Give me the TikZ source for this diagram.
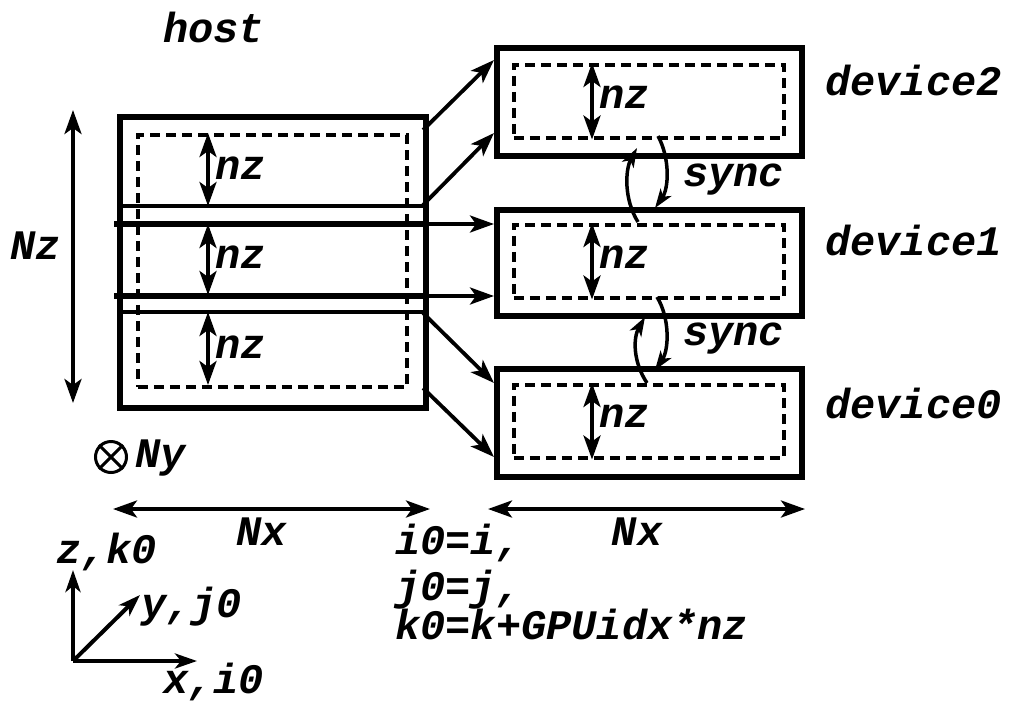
\documentclass[tikz,border=0pt]{standalone}
\usepackage{fontspec}
\setmonofont{Liberation Mono}
\usetikzlibrary{arrows.meta}
\begin{document}
\begin{tikzpicture}[x=1pt,y=-1pt,
  >={Stealth[length=24pt,width=17pt,inset=6pt]},
  lbl/.style={font=\fontsize{42}{46}\selectfont\ttfamily\bfseries\itshape, inner sep=0pt, anchor=base west},
  outerbox/.style={draw, line width=6pt, anchor=north west, inner sep=0pt},
  innerbox/.style={draw, line width=3.5pt, dash pattern=on 10pt off 6pt, anchor=north west, inner sep=0pt},
  conn/.style={line width=3.8pt, ->},
  dim/.style={line width=3.8pt, <->},
  syncarr/.style={line width=3.5pt, -{Stealth[length=19pt,width=13pt,inset=5pt]}},
  axarr/.style={line width=4pt, -{Stealth[length=22pt,width=15pt,inset=6pt]}},
]
\useasboundingbox (0,0) rectangle (1011,702);

% host
\node[outerbox, minimum width=306pt, minimum height=291pt] (host) at (117,114) {};
\draw[line width=3.5pt] (117,206) -- (423,206);
\draw[line width=3.5pt] (117,312) -- (423,312);
\node[innerbox, minimum width=269pt, minimum height=252pt] (hostin) at (136,133) {};
\node[lbl] (hostlbl) at (163,42) {host};

% devices
\node[outerbox, minimum width=305pt, minimum height=108pt] (dev2) at (494,45) {};
\node[innerbox, minimum width=270pt, minimum height=73pt] (dev2in) at (512,63) {};
\node[outerbox, minimum width=305pt, minimum height=106pt] (dev1) at (494,207) {};
\node[innerbox, minimum width=270pt, minimum height=73pt] (dev1in) at (512,223) {};
\node[outerbox, minimum width=305pt, minimum height=108pt] (dev0) at (494,366) {};
\node[innerbox, minimum width=270pt, minimum height=73pt] (dev0in) at (512,383) {};

\node[lbl] (d2lbl) at (825,95) {device2};
\node[lbl] (d1lbl) at (825,255) {device1};
\node[lbl] (d0lbl) at (825,418) {device0};

% connector end points
\coordinate (h1) at (423,130);
\coordinate (h2) at (423,205);
\coordinate (h3) at (114,224);
\coordinate (h4) at (114,296);
\coordinate (h5) at (423,313);
\coordinate (h6) at (423,388);
\coordinate (t1) at (494,60);
\coordinate (t2) at (494,133);
\coordinate (t3) at (494,224);
\coordinate (t4) at (494,296);
\coordinate (t5) at (494,383);
\coordinate (t6) at (494,457);

\draw[conn] (h1) -- (t1);
\draw[conn] (h2) -- (t2);
\draw[line width=5.5pt] (h3) -- (423,224);
\draw[line width=5.5pt] (h4) -- (423,296);
\draw[conn] (423,224) -- (t3);
\draw[conn] (423,296) -- (t4);
\draw[conn] (h5) -- (t5);
\draw[conn] (h6) -- (t6);

% nz in host
\coordinate (a1) at (208,133); \coordinate (b1) at (208,206);
\coordinate (a2) at (208,224); \coordinate (b2) at (208,295);
\coordinate (a3) at (208,312); \coordinate (b3) at (208,385);
\draw[dim] (a1) -- (b1);
\draw[dim] (a2) -- (b2);
\draw[dim] (a3) -- (b3);
\node[lbl] (nzh1) at (215,179) {nz};
\node[lbl] (nzh2) at (215,268) {nz};
\node[lbl] (nzh3) at (215,358) {nz};

% nz in devices
\draw[dim] (dev2in.north -| 592,0) -- (dev2in.south -| 592,0);
\draw[dim] (dev1in.north -| 592,0) -- (dev1in.south -| 592,0);
\draw[dim] (dev0in.north -| 592,0) -- (dev0in.south -| 592,0);
\node[lbl] (nzd2) at (599,108) {nz};
\node[lbl] (nzd1) at (599,268) {nz};
\node[lbl] (nzd0) at (599,427) {nz};

% sync
\coordinate (s1a) at (638,222); \coordinate (s1b) at (637,148);
\coordinate (s2a) at (658,136); \coordinate (s2b) at (655,208);
\coordinate (s3a) at (647,383); \coordinate (s3b) at (645,317);
\coordinate (s4a) at (657,297); \coordinate (s4b) at (655,370);
\draw[syncarr] (s1a) .. controls (624,200) and (625,170) .. (s1b);
\draw[syncarr] (s2a) .. controls (670,158) and (669,188) .. (s2b);
\draw[syncarr] (s3a) .. controls (633,362) and (633,338) .. (s3b);
\draw[syncarr] (s4a) .. controls (670,318) and (669,350) .. (s4b);
\node[lbl] (sync1) at (683,186) {sync};
\node[lbl] (sync2) at (683,345) {sync};

% Nz
\coordinate (nz1) at (73,110); \coordinate (nz2) at (73,403);
\draw[dim] (nz1) -- (nz2);
\node[lbl] (Nzl) at (10,259) {Nz};

% Ny
\node[circle, draw, line width=3pt, minimum size=31pt, inner sep=0pt] (nyc) at (111,457) {};
\draw[line width=3pt] (nyc.north west) -- (nyc.south east);
\draw[line width=3pt] (nyc.north east) -- (nyc.south west);
\node[lbl] (nyl) at (135,467) {Ny};

% Nx
\coordinate (x1a) at (113,509); \coordinate (x1b) at (430,509);
\coordinate (x2a) at (488,509); \coordinate (x2b) at (805,509);
\draw[dim] (x1a) -- (x1b);
\draw[dim] (x2a) -- (x2b);
\node[lbl, anchor=base] (nx1) at (262,545) {Nx};
\node[lbl, anchor=base] (nx2) at (637,545) {Nx};

% formulas
\node[lbl] (f1) at (395,554) {i0=i,};
\node[lbl] (f2) at (395,600) {j0=j,};
\node[lbl] (f3) at (395,639) {k0=k+GPUidx*nz};

% axes
\coordinate (o) at (73,661);
\coordinate (zt) at (73,570);
\coordinate (xt) at (197,661);
\coordinate (yt) at (140,595);
\draw[axarr] (o) -- (zt);
\draw[axarr] (o) -- (xt);
\draw[axarr] (o) -- (yt);
\node[lbl] (zl) at (56,563) {z,k0};
\node[lbl] (yl) at (141,617) {y,j0};
\node[lbl] (xl) at (163,693) {x,i0};
\end{tikzpicture}
\end{document}
